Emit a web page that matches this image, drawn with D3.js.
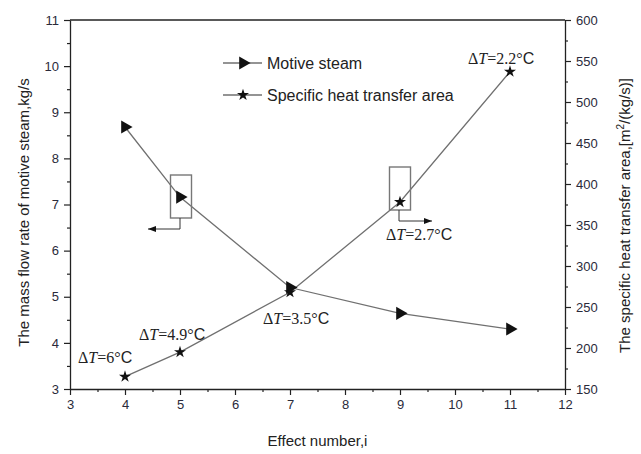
<!DOCTYPE html>
<html><head><meta charset="utf-8">
<script src="https://cdn.jsdelivr.net/npm/d3@7"></script>
<style>body{margin:0;background:#fff}svg{display:block}</style>
</head><body>
<svg id="c" width="641" height="454"></svg>
<script>
const effects = [4, 5, 7, 9, 11];
const motiveSteam = [8.68, 7.16, 5.2, 4.64, 4.3];
const heatArea = [165, 195, 268, 378, 537];
const deltaT = ["6", "4.9", "3.5", "2.7", "2.2"];
const xTicks = [3,4,5,6,7,8,9,10,11,12];
const yLeftTicks = [3,4,5,6,7,8,9,10,11];
const yRightTicks = [150,200,250,300,350,400,450,500,550,600];

const svg = d3.select("#c");
const M = {l:70, r:565, t:20, b:389};
const x = d3.scaleLinear().domain([3,12]).range([M.l, M.r]);
const yL = d3.scaleLinear().domain([3,11]).range([M.b, M.t]);
const yR = d3.scaleLinear().domain([150,600]).range([M.b, M.t]);
const tickFont = "Liberation Sans, Arial, sans-serif";
const tickColor = "#2a2a3a";

// frame top
svg.append("line").attr("x1",M.l).attr("x2",M.r).attr("y1",M.t).attr("y2",M.t).attr("stroke","#222").attr("stroke-width",1.3);

function styleAxis(g){
  g.select(".domain").attr("stroke","#222").attr("stroke-width",1.3);
  g.selectAll(".tick line").attr("stroke","#222").attr("stroke-width",1.2);
  g.selectAll(".tick text").attr("font-family",tickFont).attr("font-size",13).attr("fill",tickColor);
}
// bottom
const gx = svg.append("g").attr("transform",`translate(0,${M.b})`)
  .call(d3.axisBottom(x).tickValues(xTicks).tickSize(6).tickSizeOuter(0).tickPadding(5).tickFormat(d3.format("d")));
styleAxis(gx);
const gxm = svg.append("g").attr("transform",`translate(0,${M.b})`)
  .call(d3.axisBottom(x).tickValues(d3.range(3.5,12,1)).tickSize(3).tickFormat(""));
styleAxis(gxm); gxm.select(".domain").remove();
// left
const gl = svg.append("g").attr("transform",`translate(${M.l},0)`)
  .call(d3.axisLeft(yL).tickValues(yLeftTicks).tickSize(6).tickSizeOuter(0).tickPadding(5).tickFormat(d3.format("d")));
styleAxis(gl);
const glm = svg.append("g").attr("transform",`translate(${M.l},0)`)
  .call(d3.axisLeft(yL).tickValues(d3.range(3.5,11,1)).tickSize(3).tickFormat(""));
styleAxis(glm); glm.select(".domain").remove();
// right
const gr = svg.append("g").attr("transform",`translate(${M.r},0)`)
  .call(d3.axisRight(yR).tickValues(yRightTicks).tickSize(6).tickSizeOuter(0).tickPadding(5).tickFormat(d3.format("d")));
styleAxis(gr);
const grm = svg.append("g").attr("transform",`translate(${M.r},0)`)
  .call(d3.axisRight(yR).tickValues(d3.range(175,600,50)).tickSize(3).tickFormat(""));
styleAxis(grm); grm.select(".domain").remove();

// axis titles
const titleFont = "Liberation Sans, Arial, sans-serif";
svg.append("text").attr("transform",`translate(29,${(M.t+M.b)/2+8}) rotate(-90)`)
  .attr("text-anchor","middle").attr("font-family",titleFont).attr("font-size",15).attr("fill","#222")
  .text("The mass flow rate of motive steam,kg/s");
const rt = svg.append("text").attr("transform",`translate(630,${(M.t+M.b)/2+11}) rotate(-90)`)
  .attr("text-anchor","middle").attr("font-family",titleFont).attr("font-size",15).attr("fill","#222");
rt.append("tspan").text("The specific heat transfer area,[m");
rt.append("tspan").attr("font-size",10).attr("dy",-6).text("2");
rt.append("tspan").attr("dy",6).text("/(kg/s)]");
svg.append("text").attr("x",(M.l+M.r)/2).attr("y",446).attr("text-anchor","middle")
  .attr("font-family",titleFont).attr("font-size",15).attr("fill","#222").text("Effect number,i");

// lines
const lineL = d3.line().x((d,i)=>x(effects[i])).y(d=>yL(d));
const lineR = d3.line().x((d,i)=>x(effects[i])).y(d=>yR(d));
svg.append("path").attr("d",lineL(motiveSteam)).attr("fill","none").attr("stroke","#707070").attr("stroke-width",1.3);
svg.append("path").attr("d",lineR(heatArea)).attr("fill","none").attr("stroke","#707070").attr("stroke-width",1.3);

const tri = d3.symbol().type(d3.symbolTriangle).size(75);
const star = d3.symbol().type(d3.symbolStar).size(45);
svg.selectAll(".tri").data(motiveSteam).join("path").attr("class","tri")
  .attr("d",tri).attr("transform",(d,i)=>`translate(${x(effects[i])},${yL(d)}) rotate(90)`).attr("fill","#111");
svg.selectAll(".star").data(heatArea).join("path").attr("class","star")
  .attr("d",star).attr("transform",(d,i)=>`translate(${x(effects[i])},${yR(d)})`).attr("fill","#111");

// ΔT labels
const offs = [[-47,-14],[-41,-12],[-27,32],[-14,38],[-42,-8]];
const ser = "Liberation Serif, Times New Roman, serif";
deltaT.forEach((t,i)=>{
  const tx = svg.append("text").attr("x",x(effects[i])+offs[i][0]).attr("y",yR(heatArea[i])+offs[i][1])
    .attr("font-family",ser).attr("font-size",16).attr("fill","#222");
  tx.append("tspan").text("Δ");
  tx.append("tspan").attr("font-style","italic").text("T");
  tx.append("tspan").text("="+t+"°");
  tx.append("tspan").attr("font-family",titleFont).text("C");
});

// annotation boxes and arrows
function boxArrow(cx, cy, dir){
  svg.append("rect").attr("x",cx-10.5).attr("y",cy-22).attr("width",21).attr("height",43)
    .attr("fill","none").attr("stroke","#777").attr("stroke-width",1.4);
  const ax = cx + (dir<0?-1:-1);
  const y2 = cy+32;
  const ex = dir<0 ? ax-32 : ax+33;
  svg.append("path").attr("d",`M${ax},${cy+21}V${y2}H${ex}`).attr("fill","none").attr("stroke","#333").attr("stroke-width",1);
  svg.append("path").attr("d", dir<0 ? `M${ex},${y2}l8,-3v6z` : `M${ex},${y2}l-8,-3v6z`).attr("fill","#111");
}
boxArrow(181, 197, -1);
boxArrow(400, 189, 1);

// legend
const lg = svg.append("g");
[["Motive steam",tri,90,63],["Specific heat transfer area",star,0,95]].forEach(([lab,sym,rot,yy])=>{
  lg.append("line").attr("x1",223).attr("x2",262).attr("y1",yy).attr("y2",yy).attr("stroke","#707070").attr("stroke-width",1.3);
  lg.append("path").attr("d",sym).attr("transform",`translate(243,${yy}) rotate(${rot})`).attr("fill","#111");
  lg.append("text").attr("x",267).attr("y",yy+5.5).attr("font-family",titleFont).attr("font-size",16).attr("fill","#222").text(lab);
});
</script>
</body></html>
